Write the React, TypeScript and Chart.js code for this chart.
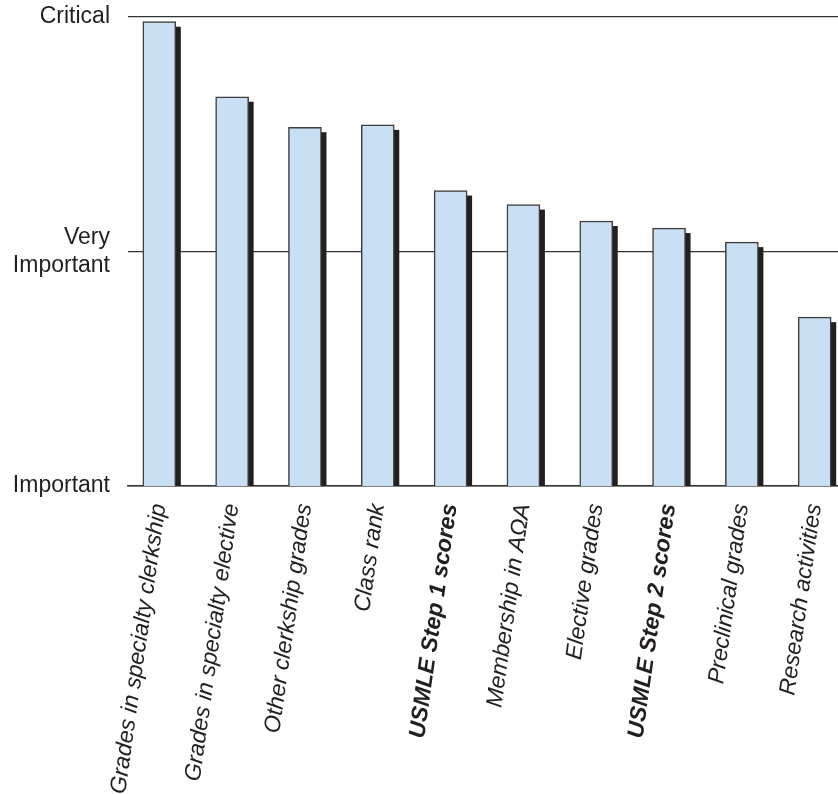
import React, { useEffect, useRef } from 'react';
import { Chart, registerables } from 'chart.js';

Chart.register(...registerables);

const categories = [
  'Grades in specialty clerkship',
  'Grades in specialty elective',
  'Other clerkship grades',
  'Class rank',
  'USMLE Step 1 scores',
  'Membership in AΩA',
  'Elective grades',
  'USMLE Step 2 scores',
  'Preclinical grades',
  'Research activities',
];
const importance = [2.98, 2.66, 2.53, 2.54, 2.26, 2.2, 2.13, 2.1, 2.04, 1.72];
const boldLabels = [false, false, false, false, true, false, false, true, false, false];
const levelValues = [1, 2, 3];
const levelLabels = [['Important'], ['Very', 'Important'], ['Critical']];

const FONT = "'Liberation Sans', Arial, Helvetica, sans-serif";
const TEXT = '#231f20';

const shadowPlugin = {
  id: 'barShadow',
  beforeDatasetsDraw(chart: any) {
    const { ctx, chartArea } = chart;
    const meta = chart.getDatasetMeta(0);
    ctx.save();
    ctx.beginPath();
    ctx.rect(chartArea.left, chartArea.top - 30, chartArea.right - chartArea.left, chartArea.bottom - chartArea.top + 30);
    ctx.clip();
    ctx.fillStyle = '#231f20';
    meta.data.forEach((el: any) => {
      const { x, y, base, width } = el.getProps(['x', 'y', 'base', 'width'], true);
      ctx.fillRect(x - width / 2 + 5, y + 5, width, base - y - 5);
    });
    ctx.restore();
  },
};

export default function App() {
  const ref = useRef<HTMLCanvasElement | null>(null);

  useEffect(() => {
    document.body.style.margin = '0';
    if (!ref.current) return;
    const chart = new Chart(ref.current, {
      type: 'bar',
      data: {
        datasets: [
          {
            data: importance.map((v, i) => ({ x: i, y: v })),
            backgroundColor: '#c9dff3',
            borderColor: '#3d3d3d',
            borderWidth: 1.5,
            borderSkipped: 'start',
            barThickness: 33,
          } as any,
        ],
      },
      options: {
        responsive: false,
        animation: false,
        layout: { padding: { top: 0, right: 0, left: 0, bottom: 0 } },
        plugins: {
          legend: { display: false },
          tooltip: { enabled: false },
        },
        scales: {
          x: {
            type: 'linear',
            offset: false,
            min: -0.43,
            max: 9.32,
            afterBuildTicks: (s: any) => {
              s.ticks = categories.map((_, i) => ({ value: i }));
            },
            afterFit: (s: any) => {
              s.height = 308;
              s.paddingLeft = 0;
              s.paddingRight = 0;
            },
            grid: { display: false, drawTicks: false },
            border: { display: true, color: '#333', width: 1.5 },
            ticks: {
              autoSkip: false,
              minRotation: 82,
              maxRotation: 82,
              padding: 16,
              color: TEXT,
              font: (c: any) => ({
                family: FONT,
                size: 23,
                style: 'italic',
                weight: boldLabels[c.index] ? 'bold' : 'normal',
              }),
              callback: (_v: any, i: number) => categories[i],
            },
          },
          y: {
            min: 1,
            max: 3,
            afterBuildTicks: (s: any) => {
              s.ticks = levelValues.map((v) => ({ value: v }));
            },
            afterFit: (s: any) => {
              s.width = 128;
              s.paddingTop = 17;
              s.paddingBottom = 0;
            },
            grid: { color: '#333', lineWidth: 1.3, drawTicks: false },
            border: { display: false },
            ticks: {
              padding: 18,
              color: TEXT,
              font: { family: FONT, size: 23 },
              callback: (v: any) => levelLabels[levelValues.indexOf(Number(v))],
            },
          },
        },
      } as any,
      plugins: [shadowPlugin],
    });
    return () => chart.destroy();
  }, []);

  return (
    <div style={{ width: 838, height: 794, overflow: 'hidden' }}>
      <canvas ref={ref} width={838} height={794} style={{ display: 'block' }} />
    </div>
  );
}
